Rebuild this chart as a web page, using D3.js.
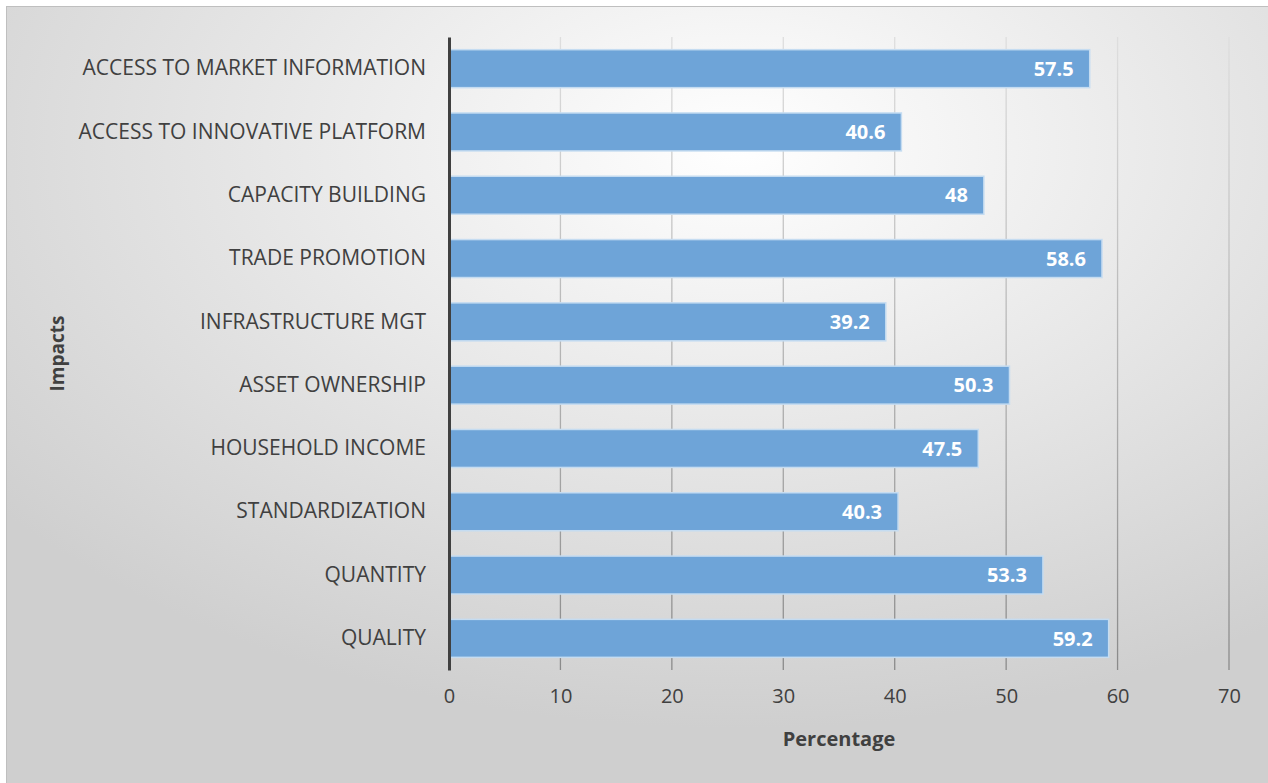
<!DOCTYPE html>
<html>
<head>
<meta charset="utf-8">
<script src="https://cdn.jsdelivr.net/npm/d3@7"></script>
<style>
  body { margin: 0; background: #fff; }
  text { font-family: "Open Sans", "Noto Sans", sans-serif; }
</style>
</head>
<body>
<div id="chart"></div>
<script>
// Data
const categories = [
    "ACCESS TO MARKET INFORMATION",
    "ACCESS TO INNOVATIVE PLATFORM",
    "CAPACITY BUILDING",
    "TRADE PROMOTION",
    "INFRASTRUCTURE MGT",
    "ASSET OWNERSHIP",
    "HOUSEHOLD INCOME",
    "STANDARDIZATION",
    "QUANTITY",
    "QUALITY"
];
const values = [57.5, 40.6, 48, 58.6, 39.2, 50.3, 47.5, 40.3, 53.3, 59.2];
const xTicks = [0, 10, 20, 30, 40, 50, 60, 70];

const W = 1268, H = 783;
const margin = { top: 37, right: 39, bottom: 113, left: 449 };
const width = W - margin.left - margin.right;
const height = H - margin.top - margin.bottom;

const svg = d3.select("#chart").append("svg")
    .attr("width", W)
    .attr("height", H);

const defs = svg.append("defs");
const bg = defs.append("radialGradient")
    .attr("id", "bg")
    .attr("cx", "58%").attr("cy", "18%").attr("r", "75%");
bg.append("stop").attr("offset", "0%").attr("stop-color", "#ffffff");
bg.append("stop").attr("offset", "100%").attr("stop-color", "#cfcfcf");

const gridGrad = defs.append("linearGradient")
    .attr("id", "gridGrad")
    .attr("gradientUnits", "userSpaceOnUse")
    .attr("x1", 0).attr("y1", 0).attr("x2", 0).attr("y2", height);
gridGrad.append("stop").attr("offset", "0%").attr("stop-color", "#dedede");
gridGrad.append("stop").attr("offset", "100%").attr("stop-color", "#8a8a8a");

// Background and frame
svg.append("rect")
    .attr("x", 7).attr("y", 6)
    .attr("width", W - 7).attr("height", H - 6)
    .attr("fill", "url(#bg)");
svg.append("line")
    .attr("x1", 6).attr("x2", W).attr("y1", 6.5).attr("y2", 6.5)
    .attr("stroke", "#bfbfbf");
svg.append("line")
    .attr("x1", 6.5).attr("x2", 6.5).attr("y1", 6).attr("y2", H)
    .attr("stroke", "#bfbfbf");

const g = svg.append("g")
    .attr("transform", "translate(" + margin.left + "," + margin.top + ")");

const x = d3.scaleLinear().domain([0, 70]).range([0, width]);
const y = d3.scaleBand().domain(categories).range([0, height]).paddingInner(0.4).paddingOuter(0.2);

// Gridlines
g.selectAll("line.grid")
    .data(xTicks.slice(1))
    .enter().append("line")
    .attr("class", "grid")
    .attr("x1", d => x(d)).attr("x2", d => x(d))
    .attr("y1", 0).attr("y2", height)
    .attr("stroke", "url(#gridGrad)")
    .attr("stroke-width", 1.3);

// Bars
const data = categories.map((c, i) => ({ cat: c, value: values[i] }));

g.selectAll("rect.bar")
    .data(data)
    .enter().append("rect")
    .attr("class", "bar")
    .attr("x", 0)
    .attr("y", d => y(d.cat))
    .attr("width", d => x(d.value))
    .attr("height", y.bandwidth())
    .attr("fill", "#6ea4d8")
    .attr("stroke", "#c5dcf1")
    .attr("stroke-width", 1.5);

// Value labels
g.selectAll("text.val")
    .data(data)
    .enter().append("text")
    .attr("class", "val")
    .attr("x", d => x(d.value) - 16)
    .attr("y", d => y(d.cat) + y.bandwidth() / 2)
    .attr("dy", "0.36em")
    .attr("text-anchor", "end")
    .attr("fill", "#ffffff")
    .style("font-weight", "bold")
    .style("font-size", "20px")
    .text(d => d.value);

// Category axis
const yAxis = g.append("g")
    .call(d3.axisLeft(y).tickSize(0).tickPadding(23));
yAxis.select(".domain")
    .attr("stroke", "#404040")
    .attr("stroke-width", 3);
yAxis.selectAll("text")
    .attr("fill", "#404040")
    .style("font-size", "21px");

// Value axis labels
const xAxis = g.append("g")
    .attr("transform", "translate(0," + height + ")")
    .call(d3.axisBottom(x).tickValues(xTicks).tickSize(0).tickPadding(19));
xAxis.select(".domain").remove();
xAxis.selectAll("text")
    .attr("fill", "#404040")
    .style("font-size", "20px");

// Axis titles
svg.append("text")
    .attr("x", margin.left + width / 2)
    .attr("y", 746)
    .attr("text-anchor", "middle")
    .attr("fill", "#404040")
    .style("font-weight", "bold")
    .style("font-size", "20px")
    .text("Percentage");

svg.append("text")
    .attr("transform", "translate(64," + (margin.top + height / 2) + ") rotate(-90)")
    .attr("text-anchor", "middle")
    .attr("fill", "#404040")
    .style("font-weight", "bold")
    .style("font-size", "19px")
    .text("Impacts");
</script>
</body>
</html>
